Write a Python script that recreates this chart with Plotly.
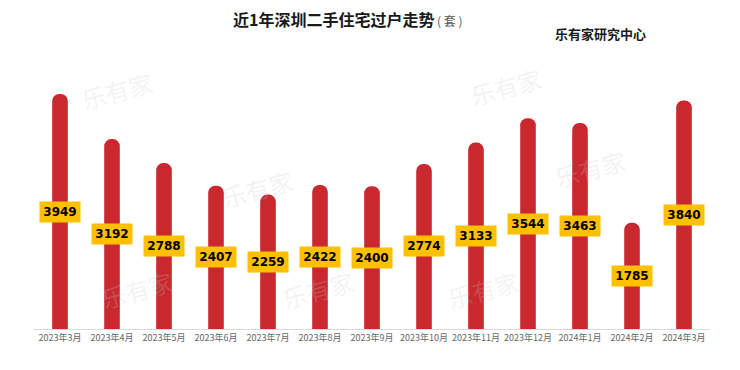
import plotly.graph_objects as go

months = ["2023年3月", "2023年4月", "2023年5月", "2023年6月", "2023年7月", "2023年8月",
          "2023年9月", "2023年10月", "2023年11月", "2023年12月", "2024年1月", "2024年2月", "2024年3月"]
values = [3949, 3192, 2788, 2407, 2259, 2422, 2400, 2774, 3133, 3544, 3463, 1785, 3840]

W, H = 740, 370
OFF = 8  # page body margin offset
# desired on-screen plot area: x 34..710, y 70..329
ML, MR = 34 - OFF, W - (710 - OFF)
MT, MB = 70 - OFF, H - (329 - OFF)
YMAX = 4353

fig = go.Figure()
fig.add_trace(go.Bar(
    x=months, y=values, width=0.3,
    marker=dict(color="#C8282E", cornerradius="50%", line=dict(width=0)),
    hoverinfo="x+y",
))

PW = W - ML - MR
PH = H - MT - MB

def sx(px):  # screen px -> paper x
    return (px - OFF - ML) / PW

def sy(py):  # screen px -> paper y
    return (H - MB - (py - OFF)) / PH

annotations = []
# watermarks
for (wx, wy) in [(75, 62), (548, 58), (215, 188), (632, 168), (95, 318), (318, 318), (525, 318)]:
    annotations.append(dict(
        x=sx(wx), y=sy(wy), xref="paper", yref="paper",
        text="乐有家", showarrow=False, textangle=-15,
        font=dict(family="Noto Sans CJK SC", size=24, color="rgba(200,200,200,0.22)"),
    ))

# value labels at bar centres
for m, v in zip(months, values):
    annotations.append(dict(
        x=m, y=v / 2, xref="x", yref="y", text="<b>%d</b>" % v, showarrow=False,
        font=dict(family="DejaVu Sans", size=12, color="#000000"),
        bgcolor="#FFC000", borderpad=3, width=34, height=14,
    ))

annotations.append(dict(
    x=sx(435), y=sy(21), xref="paper", yref="paper",
    xanchor="left", yanchor="middle", showarrow=False,
    text="( 套 )",
    font=dict(family="Noto Sans CJK SC", size=12, color="#595959"),
))
annotations.append(dict(
    x=sx(553), y=sy(33), xref="paper", yref="paper",
    xanchor="left", yanchor="middle", showarrow=False,
    text="<b>乐有家研究中心</b>",
    font=dict(family="Noto Sans CJK SC", size=13, color="#1a1a1a"),
))

fig.update_layout(
    width=W, height=H,
    margin=dict(l=ML, r=MR, t=MT, b=MB),
    paper_bgcolor="white", plot_bgcolor="white",
    showlegend=False,
    title=dict(
        text="<b>近1年深圳二手住宅过户走势</b>",
        x=(233 - OFF) / W, xanchor="left", xref="container",
        y=1 - (20 - OFF) / H, yanchor="middle", yref="container",
        font=dict(family="Noto Sans CJK SC", size=16, color="#1a1a1a"),
    ),
    annotations=annotations,
    xaxis=dict(
        type="category", showgrid=False, showline=True, linecolor="#D9D9D9", linewidth=1,
        ticks="", tickfont=dict(family="Noto Sans CJK SC", size=9, color="#666666"),
        tickangle=0,
    ),
    yaxis=dict(range=[0, YMAX], visible=False, showgrid=False, zeroline=False),
)

fig.write_html("out.html")
